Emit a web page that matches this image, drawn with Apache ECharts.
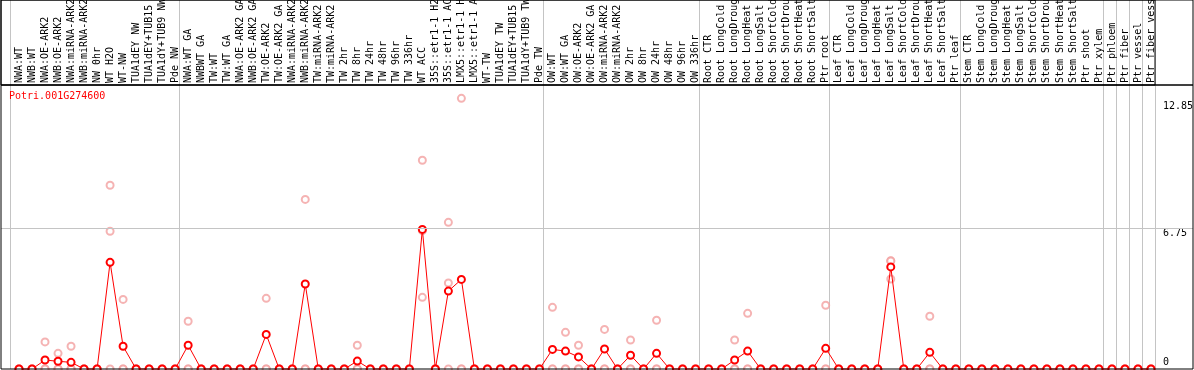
<!DOCTYPE html>
<html><head><meta charset="utf-8">
<script src="https://cdn.jsdelivr.net/npm/echarts@6/dist/echarts.min.js"></script>
<style>html,body{margin:0;padding:0;background:#fff}#c{width:1194px;height:370px}</style>
</head><body><div id="c"></div>
<script>
const geneName = 'Potri.001G274600';
const categories = [
 'NWA:WT','NWB:WT','NWA:OE-ARK2','NWB:OE-ARK2','NWA:miRNA-ARK2','NWB:miRNA-ARK2','NW 0hr','WT H2O','WT-NW','TUA1dEY NW',
 'TUA1dEY+TUB15 NW','TUA1dY+TUB9 NW','Pde NW','NWA:WT GA','NWBWT GA','TW:WT','TW:WT GA','NWA:OE-ARK2 GA','NWB:OE-ARK2 GA','TW:OE-ARK2',
 'TW:OE-ARK2 GA','NWA:miRNA-ARK2 GA','NWB:miRNA-ARK2 GA','TW:miRNA-ARK2','TW:miRNA-ARK2 GA','TW 2hr','TW 8hr','TW 24hr','TW 48hr','TW 96hr',
 'TW 336hr','WT ACC','35S::etr1-1 H2O','35S::etr1-1 ACC','LMX5::etr1-1 H2O','LMX5::etr1-1 ACC','WT-TW','TUA1dEY TW','TUA1dEY+TUB15 TW','TUA1dY+TUB9 TW',
 'Pde TW','OW:WT','OW:WT GA','OW:OE-ARK2','OW:OE-ARK2 GA','OW:miRNA-ARK2','OW:miRNA-ARK2 GA','OW 2hr','OW 8hr','OW 24hr',
 'OW 48hr','OW 96hr','OW 336hr','Root CTR','Root LongCold','Root LongDrought','Root LongHeat','Root LongSalt','Root ShortCold','Root ShortDrought',
 'Root ShortHeat','Root ShortSalt','Ptr root','Leaf CTR','Leaf LongCold','Leaf LongDrought','Leaf LongHeat','Leaf LongSalt','Leaf ShortCold','Leaf ShortDrought',
 'Leaf ShortHeat','Leaf ShortSalt','Ptr leaf','Stem CTR','Stem LongCold','Stem LongDrought','Stem LongHeat','Stem LongSalt','Stem ShortCold','Stem ShortDrought',
 'Stem ShortHeat','Stem ShortSalt','Ptr shoot','Ptr xylem','Ptr phloem','Ptr fiber','Ptr vessel','Ptr fiber vessel'
];
const meanValues = [
 0,0,0.43,0.37,0.32,0,0,5.12,1.09,0,
 0,0,0,1.14,0,0,0,0,0,1.66,
 0,0,4.08,0,0,0,0.38,0,0,0,
 0,6.70,0,3.74,4.30,0,0,0,0,0,
 0,0.94,0.86,0.58,0,0.96,0,0.66,0,0.75,
 0,0,0,0,0,0.43,0.86,0,0,0,
 0,0,0.99,0,0,0,0,4.90,0,0,
 0.80,0,0,0,0,0,0,0,0,0,
 0,0,0,0,0,0,0,0
];
const rep1 = [
 0,0,1.30,0.75,1.09,0,0,8.82,3.34,0,
 0,0,0,2.29,0,0,0,0,0,3.39,
 0,0,8.14,0,0,0,1.14,0,0,0,
 0,10.02,0,7.04,12.99,0,0,0,0,0,
 0,2.96,1.76,1.14,0,1.90,0,1.39,0,2.34,
 0,0,0,0,0,1.39,2.67,0,0,0,
 0,0,3.06,0,0,0,0,5.20,0,0,
 2.53,0,0,0,0,0,0,0,0,0,
 0,0,0,0,0,0,0,0
];
const rep2 = [
 0,0,0,0,0,0,0,6.61,0,0,
 0,0,0,0,0,0,0,0,0,0,
 0,0,0,0,0,0,0,0,0,0,
 0,3.44,0,4.13,0,0,0,0,0,0,
 0,0,0,0,0,0,0,0,0,0,
 0,0,0,0,0,0,0,0,0,0,
 0,0,0,0,0,0,0,4.32,0,0,
 0,0,0,0,0,0,0,0,0,0,
 0,0,0,0,0,0,0,0
];
const rep3 = [
 0,0,0,0,0,0,0,0,0,0,
 0,0,0,0,0,0,0,0,0,0,
 0,0,0,0,0,0,0,0,0,0,
 0,6.64,0,0,0,0,0,0,0,0,
 0,0,0,0,0,0,0,0,0,0,
 0,0,0,0,0,0,0,0,0,0,
 0,0,0,0,0,0,0,5.18,0,0,
 0,0,0,0,0,0,0,0,0,0,
 0,0,0,0,0,0,0,0
];
const yTickLabels = [0, 6.75, 12.85];
const groupBreaks = [0, 13, 41, 53, 63, 73, 84, 85, 86, 87];
const yMax = 13.63;

const FONT = 'DejaVu Sans Mono';
const GRAY = '#c4c4c4';
const chart = echarts.init(document.getElementById('c'), null, {renderer: 'canvas'});

const hiddenCat = (gi) => ({type: 'category', gridIndex: gi, data: categories, show: false});
const hiddenVal = (gi) => ({type: 'value', gridIndex: gi, min: 0, max: yMax, show: false});
const lineCat = (gi) => ({
  type: 'category', gridIndex: gi, data: categories, boundaryGap: true,
  axisLine: {show: false}, axisTick: {show: false}, axisLabel: {show: false},
  splitLine: {show: true, interval: (idx) => groupBreaks.indexOf(idx) >= 0,
    lineStyle: {color: GRAY, width: 1}}
});
const gridBase = {outerBoundsMode: 'none', containLabel: false};

const option = {
  animation: false,
  backgroundColor: '#fff',
  title: {
    text: geneName, left: 9, top: 91, padding: 0,
    textStyle: {color: '#ff0000', fontFamily: FONT, fontSize: 10, fontWeight: 'normal'}
  },
  grid: [
    Object.assign({left: 1, right: 1, top: 0, height: 85, show: true, borderColor: '#000', borderWidth: 1, backgroundColor: 'transparent', z: 10}, gridBase),
    Object.assign({left: 1, right: 1, top: 85, bottom: 1, show: true, borderColor: '#000', borderWidth: 1, backgroundColor: 'transparent', z: 10}, gridBase),
    Object.assign({left: 1, right: 39, top: 0, height: 85, show: true, borderColor: '#000', borderWidth: 1, backgroundColor: 'transparent', z: 10}, gridBase),
    Object.assign({left: 10, right: 39, top: 0, height: 85}, gridBase),
    Object.assign({left: 10, right: 39, top: 85, bottom: 1}, gridBase),
    Object.assign({left: 12.5, right: 36.5, top: 85, bottom: 1}, gridBase)
  ],
  xAxis: [
    hiddenCat(0), hiddenCat(1), hiddenCat(2),
    lineCat(3), lineCat(4),
    {
      type: 'category', gridIndex: 5, data: categories, position: 'top', boundaryGap: true,
      axisLine: {show: false}, axisTick: {show: false}, splitLine: {show: false},
      axisLabel: {interval: 0, rotate: 90, margin: 2, color: '#000', fontFamily: FONT, fontSize: 10, hideOverlap: false}
    }
  ],
  yAxis: [
    hiddenVal(0), hiddenVal(1), hiddenVal(2), hiddenVal(3),
    {
      type: 'value', gridIndex: 4, position: 'right', min: 0, max: yMax,
      axisLine: {show: false}, axisTick: {show: false}, splitLine: {show: false},
      axisLabel: {customValues: yTickLabels.slice(1), verticalAlign: 'top', margin: 8, color: '#000', fontFamily: FONT, fontSize: 10,
        formatter: (v) => String(v)}
    },
    {
      type: 'value', gridIndex: 5, position: 'right', min: 0, max: yMax,
      axisLine: {show: false}, axisTick: {show: false}, splitLine: {show: false},
      axisLabel: {customValues: yTickLabels.slice(0, 1), verticalAlign: 'bottom', margin: 5.5, padding: [0, 0, 2, 0], color: '#000', fontFamily: FONT, fontSize: 10,
        formatter: (v) => String(v)}
    }
  ],
  series: [
    {
      type: 'line', xAxisIndex: 1, yAxisIndex: 1, data: [], silent: true,
      markLine: {silent: true, symbol: ['none', 'none'], label: {show: false},
        lineStyle: {color: GRAY, type: 'solid', width: 1},
        data: [{yAxis: yTickLabels[1]}]}
    },
    {type: 'scatter', xAxisIndex: 5, yAxisIndex: 5, data: rep1, symbol: 'emptyCircle', symbolSize: 7, z: 2,
      itemStyle: {color: '#f2a0a0', borderColor: '#f2a0a0', borderWidth: 1.3}},
    {type: 'scatter', xAxisIndex: 5, yAxisIndex: 5, data: rep2, symbol: 'emptyCircle', symbolSize: 7, z: 2,
      itemStyle: {color: '#f2a0a0', borderColor: '#f2a0a0', borderWidth: 1.3}},
    {type: 'scatter', xAxisIndex: 5, yAxisIndex: 5, data: rep3, symbol: 'emptyCircle', symbolSize: 7, z: 2,
      itemStyle: {color: '#f2a0a0', borderColor: '#f2a0a0', borderWidth: 1.3}},
    {type: 'line', xAxisIndex: 5, yAxisIndex: 5, data: meanValues, symbol: 'emptyCircle', symbolSize: 7, z: 3,
      clip: false,
      lineStyle: {color: '#ff0000', width: 1},
      itemStyle: {color: '#ff0000', borderColor: '#ff0000', borderWidth: 1.6}}
  ]
};
chart.setOption(option);
</script>
</body></html>
